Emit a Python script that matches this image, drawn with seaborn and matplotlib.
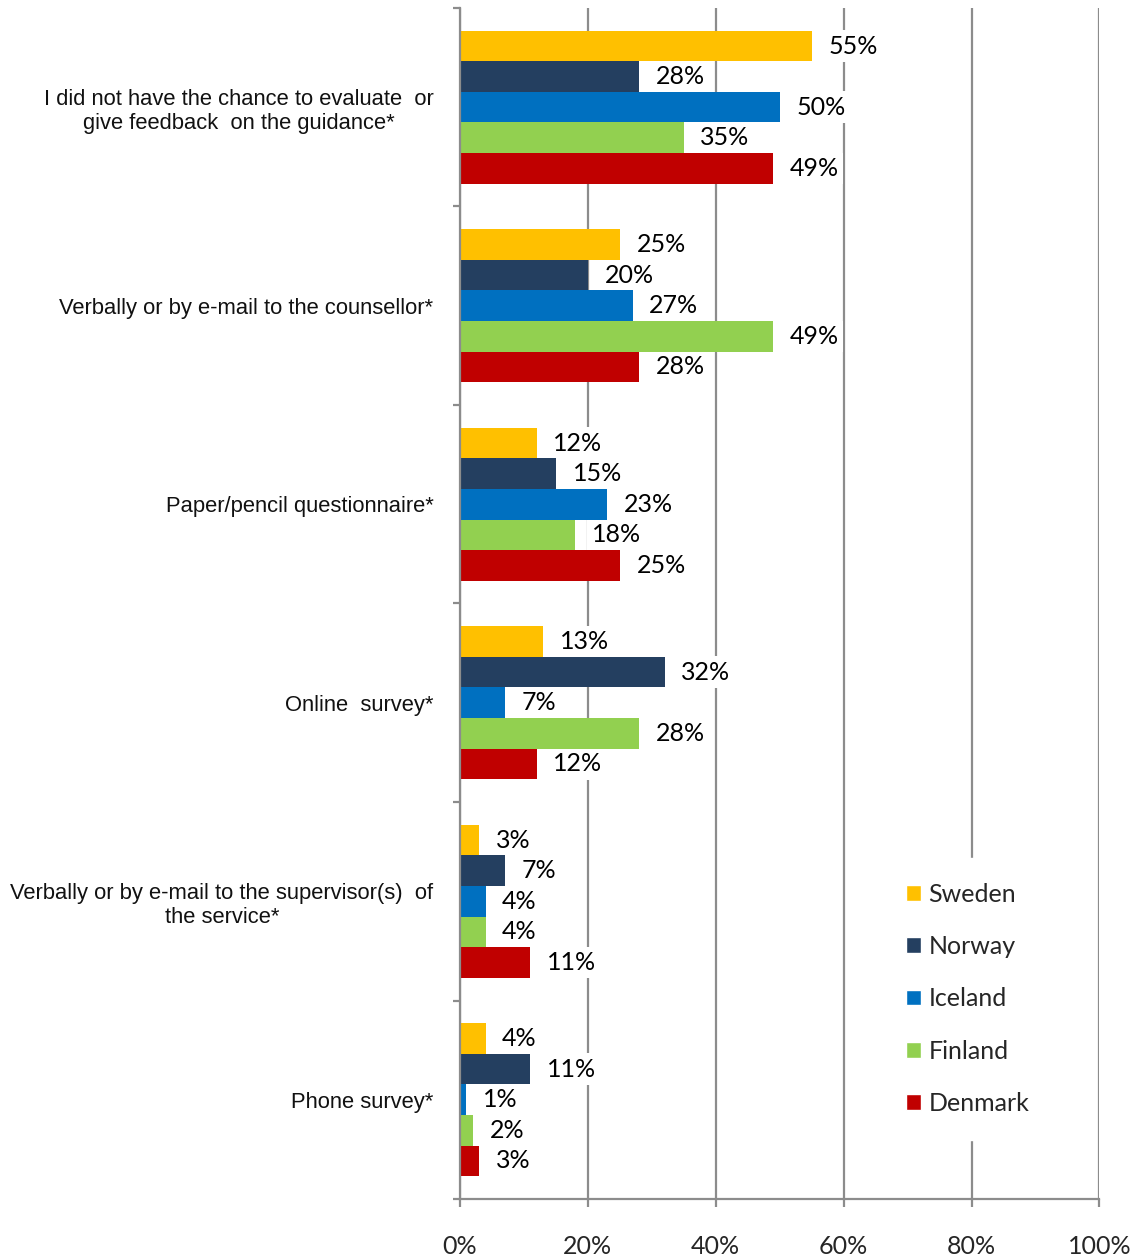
import matplotlib
matplotlib.use("Agg")
import matplotlib.pyplot as plt
from matplotlib.ticker import FixedLocator, PercentFormatter
import numpy as np
import pandas as pd
import seaborn as sns

categories = [
    "I did not have the chance to evaluate  or\ngive feedback  on the guidance*",
    "Verbally or by e-mail to the counsellor*",
    "Paper/pencil questionnaire*",
    "Online  survey*",
    "Verbally or by e-mail to the supervisor(s)  of\nthe service*",
    "Phone survey*",
]
countries = ["Sweden", "Norway", "Iceland", "Finland", "Denmark"]
sweden = [55, 25, 12, 13, 3, 4]
norway = [28, 20, 15, 32, 7, 11]
iceland = [50, 27, 23, 7, 4, 1]
finland = [35, 49, 18, 28, 4, 2]
denmark = [49, 28, 25, 12, 11, 3]
x_ticks = [0, 20, 40, 60, 80, 100]

colors = ["#FFC000", "#243F60", "#0070C0", "#92D050", "#C00000"]

series = [sweden, norway, iceland, finland, denmark]
df = pd.DataFrame(
    [(cat, c, vals[i]) for c, vals in zip(countries, series) for i, cat in enumerate(categories)],
    columns=["category", "country", "value"],
)

sns.set_theme(style="white")
label_font = ["Lato", "DejaVu Sans"]
cat_font = ["Liberation Sans", "DejaVu Sans"]
plt.rcParams["font.family"] = label_font

fig = plt.figure(figsize=(11.47, 12.60), dpi=100)
ax = fig.add_axes([0.401, 0.0484, 0.9585 - 0.401, 0.9937 - 0.0484])

sns.barplot(
    data=df, y="category", x="value", hue="country",
    order=categories, hue_order=countries, palette=colors,
    orient="h", width=0.77, saturation=1, dodge=True, ax=ax, legend=True,
)

# value labels sit on white boxes that hide the grid lines behind them
for cont in ax.containers:
    ax.bar_label(
        cont, labels=[f"{v:.0f}%" for v in cont.datavalues], padding=12,
        fontsize=18, color="black", family=label_font,
        bbox=dict(facecolor="white", edgecolor="none", pad=3), zorder=0.8,
    )
for cont in ax.containers:
    for p in cont.patches:
        p.set_zorder(2)
        p.set_edgecolor("none")

ax.set_xlim(0, 100)
ax.set_ylim(len(categories) - 0.5, -0.5)
ax.set_axisbelow(True)
ax.grid(axis="x", color="#8c8c8c", lw=1.6, zorder=0.5)
ax.grid(axis="y", visible=False)

ax.xaxis.set_major_locator(FixedLocator(x_ticks))
ax.xaxis.set_major_formatter(PercentFormatter(decimals=0))
ax.tick_params(axis="x", which="major", direction="out", length=6, width=1.6,
               color="#8c8c8c", pad=20, labelsize=18, bottom=True)
ax.yaxis.set_minor_locator(FixedLocator(np.arange(-0.5, len(categories), 1.0)))
ax.tick_params(axis="y", which="minor", direction="out", length=5, width=1.6,
               color="#8c8c8c", left=True)
ax.tick_params(axis="y", which="major", length=0, pad=19)
for lbl in ax.get_yticklabels():
    lbl.set_family(cat_font)
    lbl.set_fontsize(15.8)
    lbl.set_multialignment("center")
    lbl.set_color("#111111")

for s in ["top", "right"]:
    ax.spines[s].set_visible(False)
for s in ["left", "bottom"]:
    ax.spines[s].set_color("#8c8c8c")
    ax.spines[s].set_linewidth(1.6)

ax.set_xlabel("")
ax.set_ylabel("")

handles, labels = ax.get_legend_handles_labels()
leg = ax.legend(
    handles, labels, loc="upper left", bbox_to_anchor=(0.639, 0.297),
    frameon=True, facecolor="white", edgecolor="white", framealpha=1,
    fontsize=18, handlelength=0.6, handleheight=0.6, handletextpad=0.3,
    labelspacing=1.17, borderpad=1.0, fancybox=False,
)
leg.set_zorder(5)

fig.savefig("out.png", dpi=100, facecolor="white")
